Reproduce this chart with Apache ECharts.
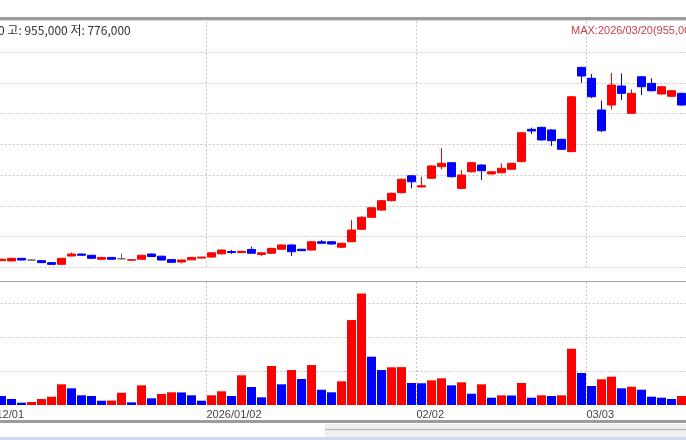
<!DOCTYPE html>
<html><head><meta charset="utf-8">
<script src="https://cdn.jsdelivr.net/npm/echarts@6/dist/echarts.min.js"></script>
<style>html,body{margin:0;padding:0;background:#fff;}#c{width:686px;height:440px;}</style>
</head><body><div id="c"></div>
<script>
const dates = [
'2025/12/01','2025/12/02','2025/12/03','2025/12/04','2025/12/05','2025/12/08','2025/12/09','2025/12/10','2025/12/11','2025/12/12',
'2025/12/15','2025/12/16','2025/12/17','2025/12/18','2025/12/19','2025/12/22','2025/12/23','2025/12/24','2025/12/26','2025/12/29','2025/12/30',
'2026/01/02','2026/01/05','2026/01/06','2026/01/07','2026/01/08','2026/01/09','2026/01/12','2026/01/13','2026/01/14','2026/01/15','2026/01/16',
'2026/01/19','2026/01/20','2026/01/21','2026/01/22','2026/01/23','2026/01/26','2026/01/27','2026/01/28','2026/01/29','2026/01/30',
'2026/02/02','2026/02/03','2026/02/04','2026/02/05','2026/02/06','2026/02/09','2026/02/10','2026/02/11','2026/02/12','2026/02/13',
'2026/02/19','2026/02/20','2026/02/23','2026/02/24','2026/02/25','2026/02/26','2026/02/27',
'2026/03/03','2026/03/04','2026/03/05','2026/03/06','2026/03/09','2026/03/10','2026/03/11','2026/03/12','2026/03/13','2026/03/16'];
const opens = [321500,320500,329000,323500,321500,315000,309500,336500,343000,339000,326000,332000,327500,323000,326000,343000,336000,325000,317000,324000,330000,
333000,343500,351000,348000,358000,341500,345500,358500,372500,358500,356000,383000,383000,365000,383000,423500,462500,486000,516500,542500,597500,
561000,589500,627000,640000,556500,610500,632500,603500,607500,618500,643500,748500,755000,746500,716000,676000,950000,
914500,811500,827500,889500,800500,919500,898000,863500,856000,865500];
const closes = [326000,329000,323500,323500,315000,309500,329000,343000,339000,329000,332000,326000,327500,324500,339000,335000,323500,316000,323500,332000,333000,
347000,356000,348000,352000,345500,347000,361500,372500,350500,354000,383000,378000,375500,378000,421000,462500,493500,516500,540500,586000,578000,
565000,629500,638000,594500,600000,640000,614000,610500,622000,638000,737500,743000,714000,711500,683500,854500,922000,
854500,744000,892500,865500,865500,887000,874000,887000,874000,827500];
const lows = [320000,319000,322500,322000,314000,308000,308500,336000,338000,328000,323000,325000,326000,322500,325000,334000,322000,315000,312500,323000,329000,
332000,342000,343000,347000,344000,336500,344500,357500,336500,353000,355000,377000,374500,363500,382000,421000,461000,484000,514500,540500,556500,
560000,587500,618500,592000,554000,608000,583500,601000,605000,617000,641000,733500,712000,694500,681000,674000,900000,
850000,740000,813500,844000,798000,860000,872000,861000,854000,825000];
const highs = [327500,330500,330000,325000,322500,316000,330500,348000,344500,340000,333000,333500,345000,325000,340000,344000,337000,326000,324500,333000,334000,
348000,357500,356500,353000,367000,348000,362500,373500,374000,359500,384000,388500,384000,379500,453500,466000,496000,519000,543000,589000,600000,
594500,631500,687000,642000,616000,642000,635000,612000,638000,640000,740000,754000,757000,749000,718000,857000,952000,
928500,841500,932000,930500,878500,922000,914500,889000,876000,868000];
const volumes = [265000,176000,68000,88000,176000,244000,609000,491000,285000,265000,126000,130000,362000,79000,579000,197000,324000,374000,370000,285000,126000,
285000,403000,265000,874000,529000,226000,1147000,609000,1029000,765000,1176000,450000,374000,697000,2500000,3285000,1421000,1029000,1109000,1115000,647000,
640000,726000,785000,579000,668000,332000,609000,215000,285000,280000,647000,215000,285000,265000,285000,1656000,941000,
559000,756000,832000,491000,538000,450000,244000,215000,176000,265000];
const tickDates = ['2025/12/01','2026/01/02','2026/02/02','2026/03/03'];
const tickLabels = ['12/01','2026/01/02','02/02','03/03'];
const headerText = '0 고: 955,000 저: 776,000';
const maxText = 'MAX:2026/03/20(955,000)';

const UP = '#ff0000', DOWN = '#0000ff';
const candles = dates.map((d, i) => [opens[i], closes[i], lows[i], highs[i]]);
const volData = volumes.map((v, i) => ({
  value: v,
  itemStyle: { color: (i > 0 && v > volumes[i - 1]) ? UP : DOWN }
}));
const isTick = (idx, val) => tickDates.indexOf(val) >= 0;
// label positions: left edge of each labelled day's band
const tickPos = tickDates.map(d => dates.indexOf(d) - 0.5);
const gridLine = { show: true, lineStyle: { color: '#c4c4c4', type: [2, 2], width: 1 } };
const vLine = { show: true, interval: isTick, lineStyle: { color: '#c8c8c8', type: [2, 2], width: 1 } };

const chart = echarts.init(document.getElementById('c'), null, { renderer: 'canvas' });
chart.setOption({
  animation: false,
  backgroundColor: '#fff',
  grid: [
    { left: -3.5, right: -0.5, top: 21.25, height: 246, containLabel: false, outerBoundsMode: 'none' },
    { left: -3.5, right: -0.5, top: 282, height: 123, containLabel: false, outerBoundsMode: 'none' }
  ],
  xAxis: [
    { type: 'category', gridIndex: 0, data: dates, boundaryGap: true,
      axisLine: { show: false }, axisTick: { show: false }, axisLabel: { show: false },
      splitLine: vLine },
    { type: 'category', gridIndex: 1, data: dates, boundaryGap: true,
      axisLine: { show: false }, axisTick: { show: false }, axisLabel: { show: false },
      splitLine: vLine },
    { type: 'value', gridIndex: 1, min: -0.5, max: dates.length - 0.5, position: 'bottom',
      axisLine: { show: false }, axisTick: { show: false }, splitLine: { show: false },
      axisLabel: { show: true, customValues: tickPos, align: 'left', margin: 4, hideOverlap: false,
        fontFamily: 'Liberation Sans', fontSize: 11, color: '#444',
        formatter: v => { const k = tickPos.findIndex(p => Math.abs(p - v) < 0.01); return k >= 0 ? tickLabels[k] : ''; } } }
  ],
  yAxis: [
    { type: 'value', gridIndex: 0, min: 300000, max: 1100000, interval: 100000, position: 'right',
      axisLine: { show: false }, axisTick: { show: false }, axisLabel: { show: false },
      splitLine: Object.assign({ showMaxLine: false }, gridLine) },
    { type: 'value', gridIndex: 1, min: 0, max: 3620000, interval: 1000000, position: 'right',
      axisLine: { show: false }, axisTick: { show: false }, axisLabel: { show: false },
      splitLine: Object.assign({ showMinLine: false, showMaxLine: false }, gridLine) }
  ],
  series: [
    { type: 'candlestick', xAxisIndex: 0, yAxisIndex: 0, data: candles, barWidth: 9,
      itemStyle: { color: UP, color0: DOWN, borderColor: UP, borderColor0: DOWN, borderColorDoji: '#666', borderWidth: 1 } },
    { type: 'bar', xAxisIndex: 1, yAxisIndex: 1, data: volData, barWidth: 9 }
  ],
  graphic: [
    { type: 'rect', shape: { x: 0, y: 17, width: 686, height: 3 }, style: { fill: '#9c9c9c' }, z: 10 },
    { type: 'line', shape: { x1: 0, y1: 20.5, x2: 686, y2: 20.5 }, style: { stroke: '#d8d8d8', lineWidth: 1 }, z: 10 },
    { type: 'line', shape: { x1: 0, y1: 281.5, x2: 686, y2: 281.5 }, style: { stroke: '#a8a8a8', lineWidth: 1 }, z: 10 },
    { type: 'rect', shape: { x: 0, y: 420, width: 686, height: 3 }, style: { fill: '#9c9c9c' }, z: 10 },
    { type: 'rect', shape: { x: 325, y: 424, width: 361, height: 13 }, style: { fill: '#efefef' }, z: 10 },
    { type: 'line', shape: { x1: 325, y1: 429.5, x2: 686, y2: 429.5 }, style: { stroke: '#b0b0b0', lineWidth: 1 }, z: 10 },
    { type: 'rect', shape: { x: 0, y: 437, width: 686, height: 3 }, style: { fill: '#cddbf0' }, z: 10 },
    { type: 'text', x: -2, y: 24, style: { text: headerText, fontFamily: 'Noto Sans CJK KR', fontSize: 12, fill: '#333' }, z: 10 },
    { type: 'text', x: 571, y: 25, style: { text: maxText, fontFamily: 'Liberation Sans', fontSize: 11, fill: '#c8404e' }, z: 10 }
  ]
});
</script></body></html>
